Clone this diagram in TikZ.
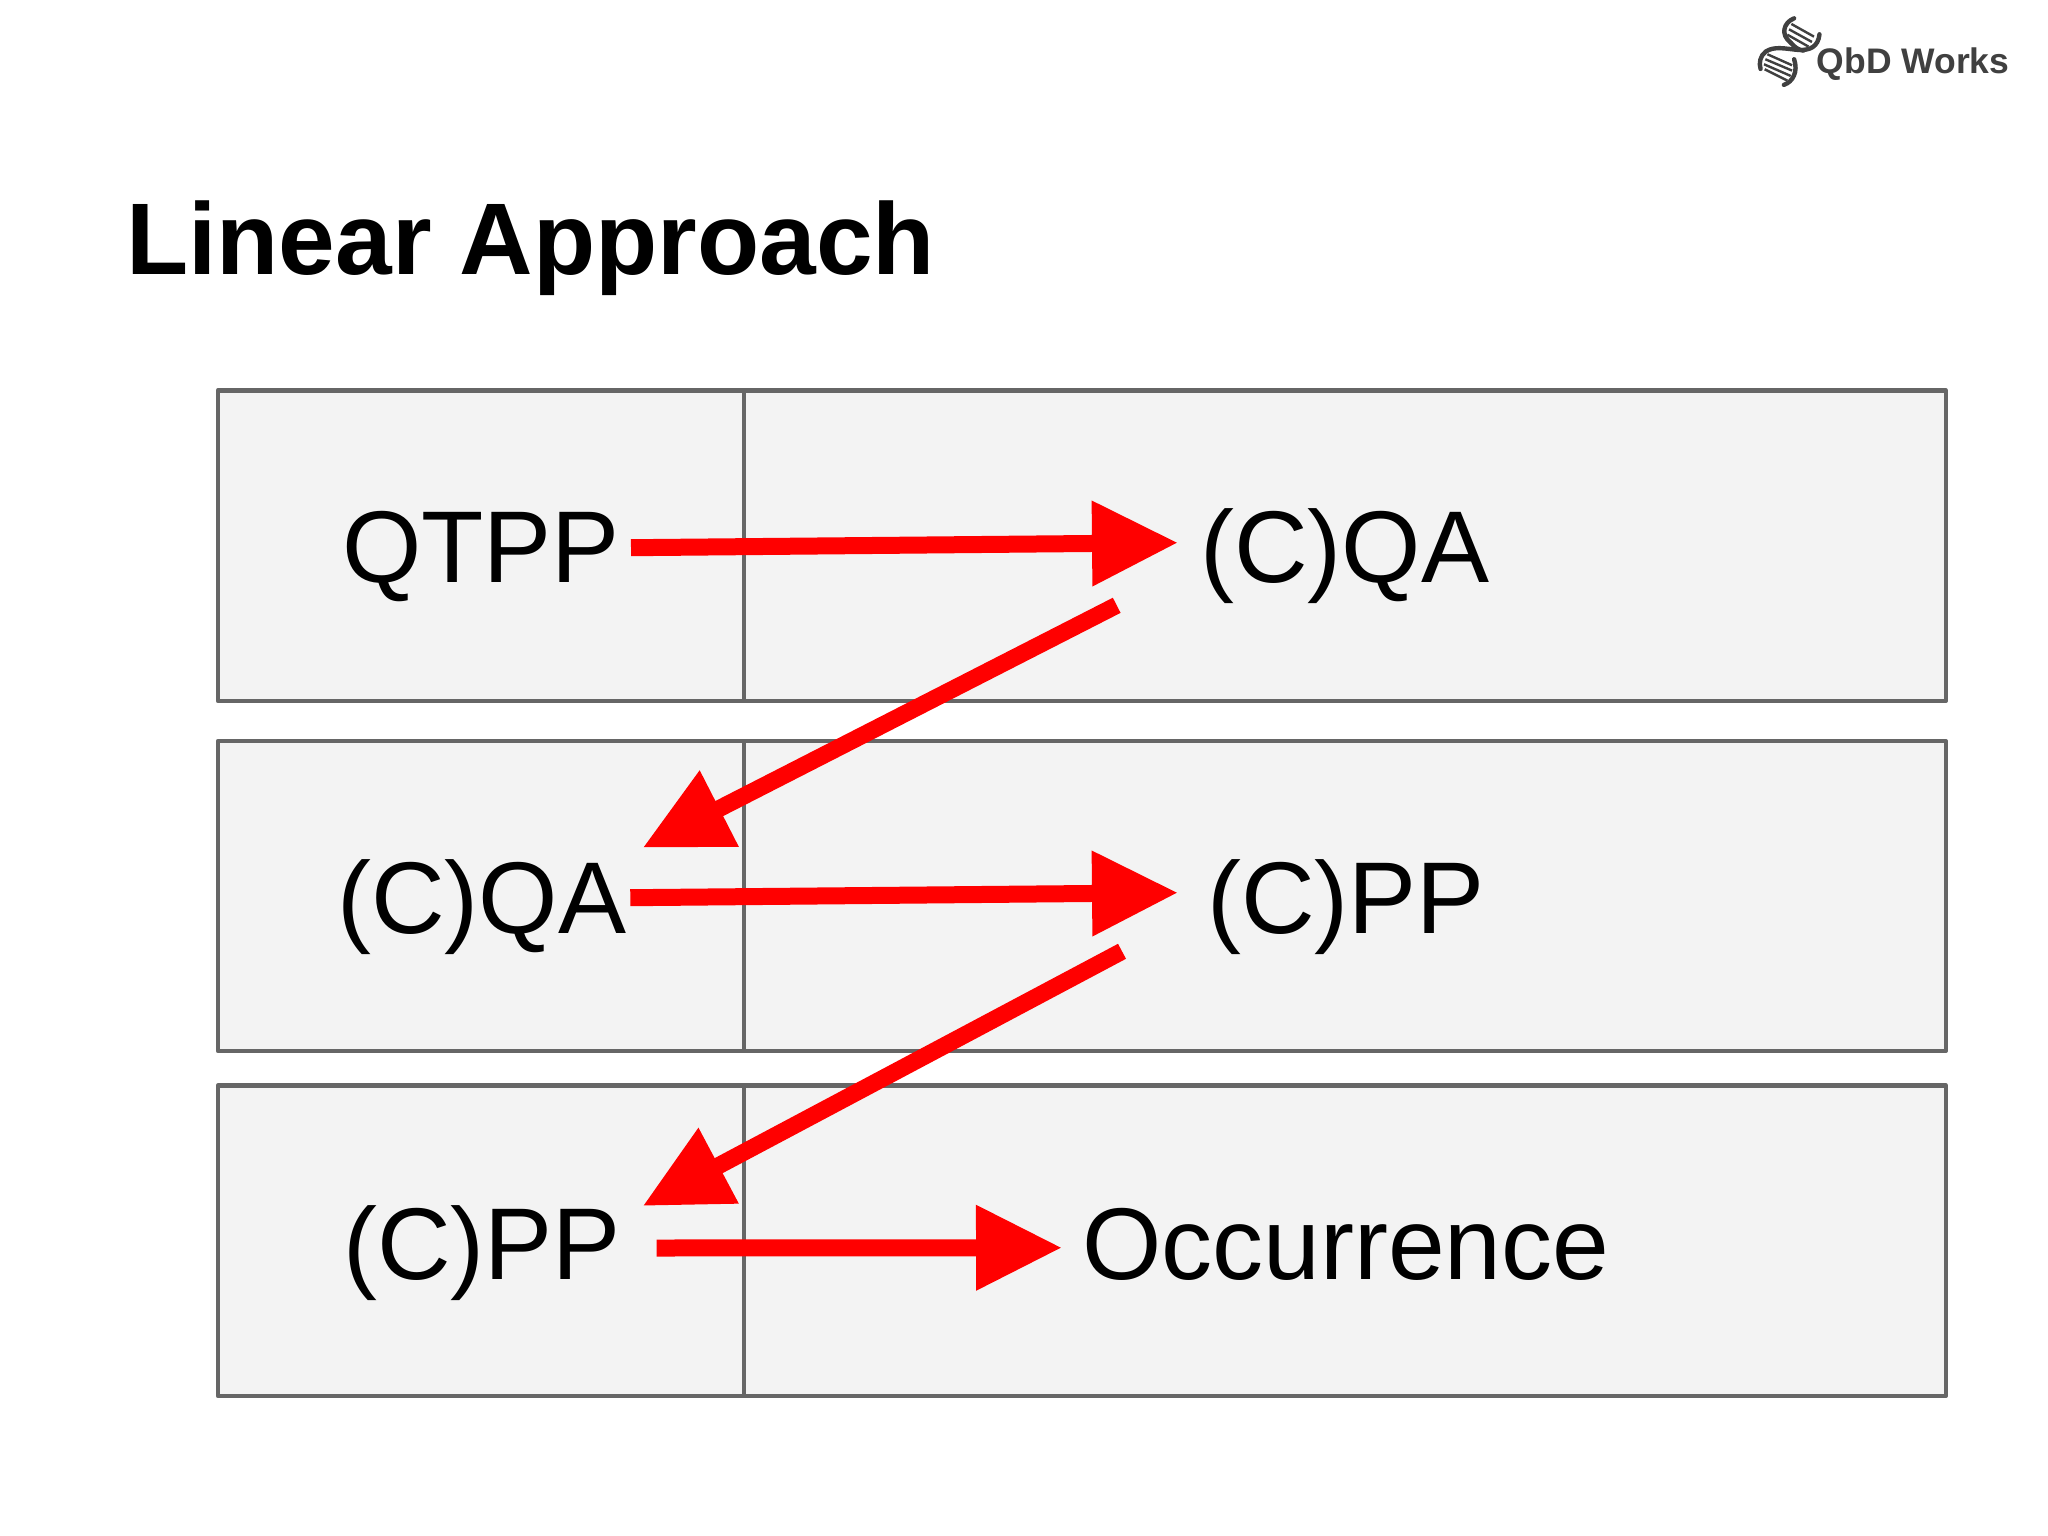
\documentclass[tikz,border=0pt]{standalone}
\usepackage{fontspec}
\setmainfont{Liberation Sans}
\usetikzlibrary{arrows.meta}
\definecolor{cellfill}{HTML}{F3F3F3}
\definecolor{cellline}{HTML}{666666}
\definecolor{arrowred}{HTML}{FF0000}
\definecolor{logogray}{HTML}{404040}
\tikzset{
  x=1pt,y=-1pt,
  cell/.style={draw=cellline,fill=cellfill,line width=4.4pt,line join=round,inner sep=0pt,outer sep=0pt,anchor=north west},
  celltext/.style={inner sep=0pt,anchor=base west,font=\fontsize{102}{110}\selectfont,text=black},
  bigarrow/.style={draw=arrowred,line width=17pt,-{Triangle[length=86pt 0 0,width=81pt 0,sep=0pt]}},
  strand/.style={draw=logogray,line width=4.4pt,line cap=round},
  rung/.style={draw=logogray,line width=2.4pt},
}
\begin{document}
\begin{tikzpicture}
\useasboundingbox (0,0) rectangle (2048,1536);
\fill[white] (0,0) rectangle (2048,1536);
% title
\node[inner sep=0pt,anchor=base west,font=\fontsize{101.8}{110}\selectfont\bfseries] (title) at (126,274) {Linear Approach};
% rows
\foreach \n/\y/\h in {a/390.3/310.7,b/741/310,c/1085.5/310.5}{
  \node[cell,minimum width=526pt,minimum height=\h pt] (\n L) at (218,\y) {};
  \node[cell,minimum width=1201.7pt,minimum height=\h pt] (\n R) at (744,\y) {};
}
% labels
\node[celltext] (qtpp) at (342,582) {QTPP};
\node[celltext] (cqaR) at (1200,582) {(C)QA};
\node[celltext] (cqaL) at (337,933.5) {(C)QA};
\node[celltext] (cppR) at (1207,933.5) {(C)PP};
\node[celltext] (cppL) at (343,1279) {(C)PP};
\node[celltext] (occ) at (1082,1279) {Occurrence};
% arrow ends
\coordinate (s1) at (631,547.7);   \coordinate (t1) at (1178,542.7);
\coordinate (s2) at (1116.7,605.3);\coordinate (t2) at (642.7,847.7);
\coordinate (s3) at (630.3,897.7); \coordinate (t3) at (1178,892.7);
\coordinate (s4) at (1122,951.3);  \coordinate (t4) at (642.7,1206);
\coordinate (s5) at (656.7,1248);  \coordinate (t5) at (1062,1247.7);
\foreach \i in {1,...,5}{\draw[bigarrow] (s\i) -- (t\i);}
% logo
\node[inner sep=0pt,anchor=base west,font=\fontsize{35.5}{40}\selectfont\bfseries,text=logogray] (logo) at (1816.5,73.5) {QbD Works};
\begin{scope}[shift={(1740,0)},x=0.3425pt,y=-0.333pt]
  \foreach \a/\b/\c/\d in {150/72/216/110,143/88/210/126,138/104/200/140,80/163/152/196,74/178/152/212,70/193/148/228,72/208/138/242}{
    \draw[rung] (\a,\b) -- (\c,\d);
  }
  \draw[strand] (158,55) .. controls (126,68) and (118,105) .. (148,128);
  \draw[strand] (148,128) .. controls (160,142) and (170,150) .. (185,152);
  \draw[strand] (232,103) .. controls (228,140) and (205,152) .. (170,150) .. controls (130,146) and (100,138) .. (75,155) .. controls (58,168) and (55,190) .. (60,207);
  \draw[strand] (158,178) .. controls (170,215) and (155,245) .. (128,255);
\end{scope}
\end{tikzpicture}
\end{document}
